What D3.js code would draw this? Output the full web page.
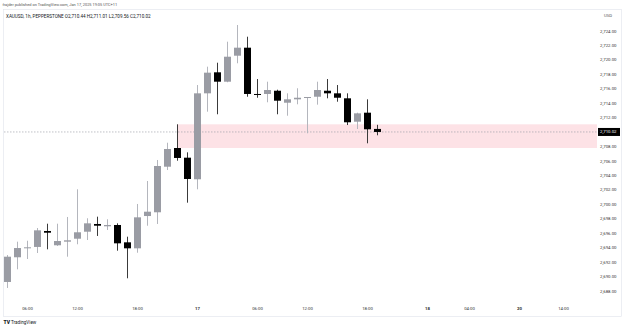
<!DOCTYPE html>
<html>
<head>
<meta charset="utf-8">
<script src="https://cdn.jsdelivr.net/npm/d3@7"></script>
<style>
  body { margin: 0; background: #fff; }
  svg { display: block; font-family: Roboto, "Liberation Sans", sans-serif; }
</style>
</head>
<body>
<div id="chart"></div>
<script>
// data: XAUUSD 1h candles, Jan 16 04:00 -> Jan 17 19:00 (UTC+11)
const opens  = [2689.25,2692.67,2694.0,2694.1,2696.31,2694.33,2694.83,2695.24,2696.21,2697.28,2696.96,2697.14,2694.74,2693.91,2698.38,2698.9,2705.21,2707.8,2706.46,2703.47,2715.37,2718.28,2716.98,2720.58,2721.69,2715.28,2715.28,2715.73,2714.07,2714.54,2714.76,2714.9,2715.73,2715.37,2714.68,2711.44,2712.69,2710.44];
const highs  = [2692.98,2694.83,2694.96,2696.72,2697.32,2697.32,2698.25,2702.08,2698.07,2698.29,2697.93,2697.37,2695.52,2700.05,2703.23,2706.14,2708.53,2711.08,2707.2,2716.52,2719.06,2719.61,2722.52,2724.83,2723.21,2717.35,2716.98,2715.87,2715.37,2716.07,2714.86,2716.98,2717.35,2716.52,2715.37,2712.69,2714.54,2711.01];
const lows   = [2688.42,2691.0,2692.43,2693.26,2693.77,2694.23,2692.75,2694.47,2695.06,2695.62,2696.45,2693.58,2689.76,2693.3,2697.04,2697.28,2704.75,2706.04,2700.23,2702.08,2712.83,2712.47,2716.9,2719.53,2714.9,2714.76,2714.13,2712.47,2712.27,2713.85,2709.84,2713.8,2714.68,2714.21,2710.98,2710.43,2708.45,2709.56];
const closes = [2692.75,2693.95,2694.05,2696.4,2696.07,2694.92,2695.02,2696.13,2697.37,2697.04,2697.14,2694.6,2693.91,2698.2,2698.98,2705.31,2707.66,2706.42,2703.51,2715.37,2718.23,2716.98,2720.44,2721.69,2715.28,2715.18,2715.83,2714.35,2714.54,2714.76,2714.86,2715.83,2715.37,2714.76,2711.36,2712.6,2710.39,2710.02];

// time axis labels, positioned by bar index
const timeLabels = ["06:00","12:00","18:00","17","06:00","12:00","18:00","18","04:00","20","14:00"];
const timeIndex  = [2,7,13,19,25,30,36,42,46.2,51.2,55.6];
const boldLabels = ["17","18","20"];

// price axis ticks
const priceTicks = d3.range(2688, 2725, 2);
const lastPrice = 2710.02;

// zone drawn from the 17 Jan 00:00 prior bar
const zoneTop = 2711.08, zoneBottom = 2707.8, zoneStart = 17;

const W = 625, H = 328;
const plotRight = 597;

const svg = d3.select("#chart").append("svg")
  .attr("width", W).attr("height", H);

// 1: SCALES
const x = d3.scaleLinear().domain([-0.75, 58.95]).range([0, plotRight]);
const y = d3.scaleLinear().domain([2688, 2724]).range([291, 31]);
const barW = 7;

// 2: HEADER
svg.append("text")
  .attr("x", 2.5).attr("y", 6)
  .style("font-size", "3.9px").style("fill", "#555")
  .text("frajder published on TradingView.com, Jan 17, 2025 19:05 UTC+11");

// frame
svg.append("rect")
  .attr("x", 3.5).attr("y", 9.5)
  .attr("width", 618).attr("height", 307)
  .attr("fill", "none").attr("stroke", "#e0e3eb").attr("stroke-width", 0.6);

svg.append("text")
  .attr("x", 6).attr("y", 17.5)
  .style("font-size", "4.6px").style("fill", "#131722")
  .text(`XAUUSD, 1h, PEPPERSTONE  O${d3.format(",.2f")(opens[37])}  H${d3.format(",.2f")(highs[37])}  L${d3.format(",.2f")(lows[37])}  C${d3.format(",.2f")(closes[37])}`);

// 3: ZONE
svg.append("rect")
  .attr("x", x(zoneStart)).attr("y", y(zoneTop))
  .attr("width", plotRight - x(zoneStart))
  .attr("height", y(zoneBottom) - y(zoneTop))
  .attr("fill", "#fde2e6");

// last price dashed line
svg.append("line")
  .attr("x1", 4).attr("x2", plotRight)
  .attr("y1", y(lastPrice)).attr("y2", y(lastPrice))
  .attr("stroke", "#9598a1").attr("stroke-width", 0.6)
  .attr("stroke-dasharray", "1.5,1.5");

// 4: CANDLES
const candles = opens.map((o, i) => ({ i, o, h: highs[i], l: lows[i], c: closes[i] }));
const g = svg.append("g");
const bull = "#9a9ca4", bear = "#000000";

g.selectAll(".wick").data(candles).enter().append("line")
  .attr("x1", d => x(d.i)).attr("x2", d => x(d.i))
  .attr("y1", d => y(d.h)).attr("y2", d => y(d.l))
  .attr("stroke", d => d.c >= d.o ? "#b4b6bd" : "#3a3a3a")
  .attr("stroke-width", 1);

g.selectAll(".body").data(candles).enter().append("rect")
  .attr("x", d => x(d.i) - barW / 2)
  .attr("y", d => y(Math.max(d.o, d.c)))
  .attr("width", barW)
  .attr("height", d => Math.max(1, Math.abs(y(d.o) - y(d.c))))
  .attr("fill", d => d.c >= d.o ? bull : bear);

// 5: PRICE AXIS
svg.append("text")
  .attr("x", 604).attr("y", 17)
  .style("font-size", "4.3px").style("fill", "#555")
  .text("USD");

svg.selectAll(".ptick").data(priceTicks.filter(v => Math.abs(y(v) - y(lastPrice)) > 6))
  .enter().append("text")
  .attr("x", 600).attr("y", d => y(d)).attr("dy", "0.35em")
  .style("font-size", "4.3px").style("fill", "#333")
  .text(d => d3.format(",.2f")(d));

svg.append("rect")
  .attr("x", 598).attr("y", y(lastPrice) - 4)
  .attr("width", 22).attr("height", 8)
  .attr("fill", "#000");
svg.append("text")
  .attr("x", 600).attr("y", y(lastPrice)).attr("dy", "0.35em")
  .style("font-size", "4.3px").style("fill", "#fff")
  .text(d3.format(",.2f")(lastPrice));

// 6: TIME AXIS
svg.selectAll(".ttick").data(timeLabels).enter().append("text")
  .attr("x", (d, i) => x(timeIndex[i]))
  .attr("y", 310)
  .attr("text-anchor", "middle")
  .style("font-size", "4.3px")
  .style("font-weight", d => boldLabels.includes(d) ? "bold" : "normal")
  .style("fill", "#333")
  .text(d => d);

// footer logo
svg.append("text")
  .attr("x", 3.5).attr("y", 323.5)
  .style("font-size", "5px").style("font-weight", "900").style("fill", "#131722")
  .text("TV");
svg.append("text")
  .attr("x", 11).attr("y", 323.5)
  .style("font-size", "4.6px").style("fill", "#131722")
  .text("TradingView");
</script>
</body>
</html>
